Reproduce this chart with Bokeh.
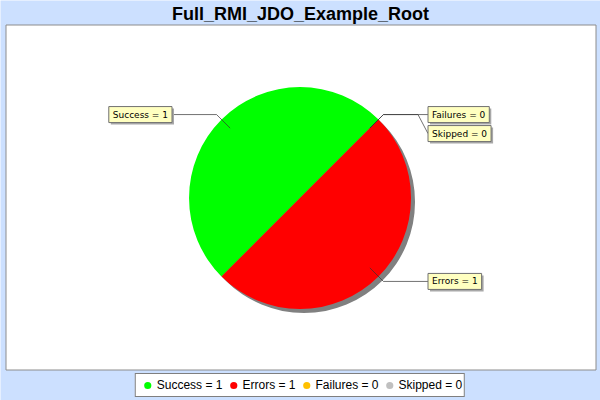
import math
from bokeh.plotting import figure
from bokeh.models import Range1d, ColumnDataSource, Legend, LegendItem
from bokeh.core.properties import value
from bokeh.embed import file_html
from bokeh.resources import INLINE

# ---- data ----
title = "Full_RMI_JDO_Example_Root"
categories = ["Success", "Errors", "Failures", "Skipped"]
counts = [1, 1, 0, 0]
colors = ["#00FF00", "#FF0000", "#FFC000", "#C0C0C0"]

# ---- layout constants ----
W, H = 600, 400
BG = "#CCE0FF"


def Y(sy):
    return H - sy


p = figure(width=W, height=H, x_range=Range1d(0, W), y_range=Range1d(0, H),
           output_backend="svg", toolbar_location=None, min_border=0,
           x_axis_type=None, y_axis_type=None,
           border_fill_color=BG, background_fill_color=BG, outline_line_color=None)

# plot area
p.quad(left=[5.5], right=[595.5], bottom=[Y(369.5)], top=[Y(24.5)],
       fill_color="white", line_color="#8C8C8C", line_width=1)

# title
p.text(x=[W / 2], y=[Y(13)], text=[title], text_font=value("Liberation Sans"),
       text_font_style="bold", text_font_size="18px", text_align="center",
       text_baseline="middle", text_color="black")

# ---- pie ----
cx, cy, R = 299.5, Y(197.5), 111
start_deg = 45.0
total = float(sum(counts))
starts, ends = [], []
acc = 0.0
for c in counts:
    a0 = start_deg + 360.0 * acc / total
    acc += c
    a1 = start_deg + 360.0 * acc / total
    starts.append(a0)
    ends.append(a1)

nz = [i for i, c in enumerate(counts) if c > 0]
pie_src = ColumnDataSource(dict(
    start=[math.radians(starts[i]) for i in nz],
    end=[math.radians(ends[i]) for i in nz],
    color=[colors[i] for i in nz],
))
p.wedge(x=cx + 4, y=cy - 4, radius=R, start_angle="start", end_angle="end",
        source=pie_src, fill_color="#808080", line_color=None)
p.wedge(x=cx, y=cy, radius=R, start_angle="start", end_angle="end",
        source=pie_src, fill_color="color", line_color=None)

# ---- slice labels ----
label_dx = 128
step = 19
lab = []
for i, cat in enumerate(categories):
    mid = math.radians((starts[i] + ends[i]) / 2)
    ca, sa = math.cos(mid), math.sin(mid)
    side = 1 if ca >= 0 else -1
    inner = (cx + R * 0.89 * ca, cy + R * 0.89 * sa)
    elbow = (cx + R * 1.063 * ca, cy + R * 1.063 * sa)
    lab.append(dict(i=i, side=side, inner=inner, elbow=elbow, y=elbow[1],
                    text=f"{cat} = {counts[i]}"))

for side in (-1, 1):
    group = sorted([l for l in lab if l["side"] == side], key=lambda l: -l["y"])
    prev = None
    for l in group:
        if prev is not None and prev - l["y"] < step:
            l["y"] = prev - step
        prev = l["y"]

xs, ys = [], []
for l in lab:
    ex = cx + l["side"] * label_dx
    l["x"] = ex
    xs.append([l["inner"][0], l["elbow"][0], ex - l["side"] * 10, ex])
    ys.append([l["inner"][1], l["elbow"][1], l["elbow"][1], l["y"]])
p.multi_line(xs=xs, ys=ys, line_color="#333333", line_width=0.7)

pad = dict(left=4, right=4, top=3, bottom=3)
for side, anchor in ((-1, "center_right"), (1, "center_left")):
    g = [l for l in lab if l["side"] == side]
    if not g:
        continue
    src = ColumnDataSource(dict(x=[l["x"] for l in g], y=[l["y"] for l in g],
                                sx=[l["x"] + 2 for l in g], sy=[l["y"] - 2 for l in g],
                                text=[l["text"] for l in g]))
    p.text(x="sx", y="sy", text="text", source=src, anchor=anchor, padding=pad,
           text_font=value("DejaVu Sans"), text_font_size="9px", text_alpha=0,
           background_fill_color="#A8A8A8")
    p.text(x="x", y="y", text="text", source=src, anchor=anchor, padding=pad,
           text_font=value("DejaVu Sans"), text_font_size="9px", text_color="black",
           background_fill_color="#FFFFC0", border_line_color="#707070",
           border_line_width=1)

# ---- legend ----
leg_src = ColumnDataSource(dict(x=[float("nan")] * len(categories),
                                y=[float("nan")] * len(categories),
                                color=colors))
r = p.scatter(x="x", y="y", source=leg_src, marker="circle", size=9,
              fill_color="color", line_color=None)
items = [LegendItem(label=f"{c} = {n}", renderers=[r], index=i)
         for i, (c, n) in enumerate(zip(categories, counts))]
legend = Legend(items=items, orientation="horizontal", location="bottom_center",
                margin=3, padding=2, spacing=1, glyph_width=19, glyph_height=18,
                label_standoff=0, label_height=18,
                label_text_font="Liberation Sans", label_text_font_size="12px",
                label_text_color="black",
                border_line_color="black", border_line_width=1,
                background_fill_color="white", background_fill_alpha=1)
p.add_layout(legend)

open("out.html", "w").write(file_html(p, INLINE))
